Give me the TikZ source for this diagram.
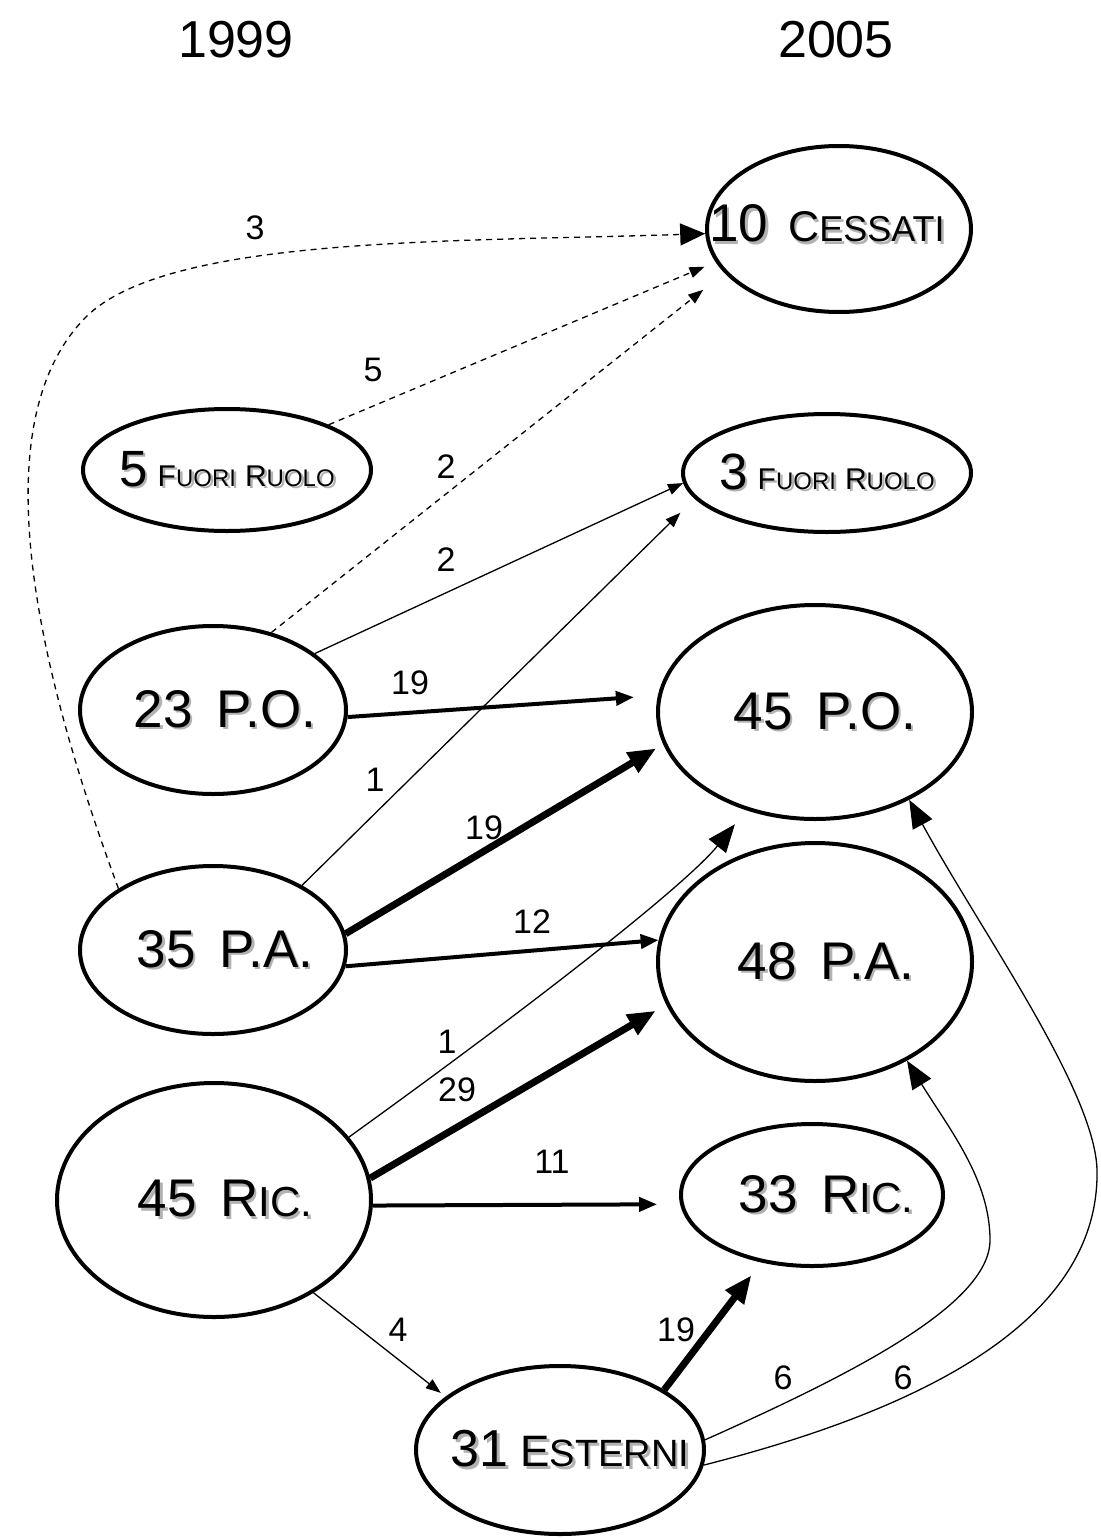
\documentclass[tikz,border=0pt]{standalone}
\usepackage{fontspec}
\setmainfont{Liberation Sans}
\usetikzlibrary{arrows.meta,shapes.geometric}
\newcommand\fs[1]{\fontsize{#1}{#1}\selectfont}
\newcommand\shd[1]{\leavevmode\rlap{\hspace{2.5pt}\raisebox{-2.5pt}{\color{black!30}#1}}#1}
\newcommand\tx[2]{\makebox[0pt]{\hspace*{#1}\shd{#2}}}
\tikzset{
  ell/.style={ellipse, draw, line width=4pt, inner sep=0pt},
  thinl/.style={line width=1.3pt},
  dashedl/.style={line width=1.3pt, dash pattern=on 6pt off 5pt},
  medl/.style={line width=4pt},
  thickl/.style={line width=7pt},
  smalltip/.style={-{Triangle[length=15pt,width=11pt]}},
  medtip/.style={-{Triangle[length=18pt,width=14pt]}},
  bigtip/.style={-{Triangle[length=28pt,width=22pt]}},
  lbl/.style={font=\fs{34}, inner sep=0pt},
  hdr/.style={font=\fs{52}, inner sep=0pt}
}
\begin{document}
\begin{tikzpicture}[x=1pt,y=-1pt]
\useasboundingbox[fill=white] (0,0) rectangle (1100,1538);
% headers
\node[hdr] (h1) at (236,40) {1999};
\node[hdr] (h2) at (836,40) {2005};
% ellipses
\node[ell, minimum width=264pt, minimum height=166pt] (ces) at (839,229)
  {\raisebox{-13pt}[0pt][0pt]{\tx{-24pt}{\fs{53}10\hspace{20pt}\fs{43}C\fs{36}ESSATI}}};
\node[ell, minimum width=288pt, minimum height=122pt] (fr5) at (227,470)
  {\tx{0pt}{\fs{51}5\hspace{10pt}\fs{30}F\fs{24}UORI\hspace{9pt}\fs{30}R\fs{24}UOLO}};
\node[ell, minimum width=288pt, minimum height=118pt] (fr3) at (827,473)
  {\tx{0pt}{\fs{51}3\hspace{10pt}\fs{30}F\fs{24}UORI\hspace{9pt}\fs{30}R\fs{24}UOLO}};
\node[ell, minimum width=266pt, minimum height=168pt] (po23) at (213,710)
  {\tx{24pt}{\fs{53}23\hspace{24pt}P.O.}};
\node[ell, minimum width=266pt, minimum height=168pt] (pa35) at (213,950)
  {\tx{24pt}{\fs{53}35\hspace{24pt}P.A.}};
\node[ell, minimum width=314pt, minimum height=234pt] (ric45) at (214,1200)
  {\tx{22pt}{\fs{53}45\hspace{24pt}R\fs{42}IC.}};
\node[ell, minimum width=314pt, minimum height=214pt] (po45) at (815,712)
  {\tx{20pt}{\fs{53}45\hspace{24pt}P.O.}};
\node[ell, minimum width=314pt, minimum height=238pt] (pa48) at (815,962)
  {\tx{22pt}{\fs{53}48\hspace{24pt}P.A.}};
\node[ell, minimum width=262pt, minimum height=142pt] (ric33) at (812,1195)
  {\tx{28pt}{\fs{53}33\hspace{24pt}R\fs{42}IC.}};
\node[ell, minimum width=288pt, minimum height=168pt] (est) at (560,1450)
  {\tx{20pt}{\fs{52}31\hspace{12pt}\fs{44}E\fs{38}STERNI}};
% connectors
\draw[dashedl, -{Triangle[length=25pt,width=22pt]}] (pa35.147) .. controls (30,650) and (-15,420) .. (85,318) .. controls (165,236) and (450,242) .. (ces.182);
\draw[dashedl, smalltip, shorten >=12pt] (fr5.24) -- (ces.195);
\draw[dashedl, smalltip, shorten >=27pt] (po23.53) -- (ces.201);
\draw[thinl, smalltip] (po23.29) -- (fr3.184);
\draw[medl, medtip, shorten >=24pt] (po23.357) -- (po45.174);
\draw[thinl, smalltip, shorten >=20pt] (pa35.36) -- (fr3.191);
\draw[thickl, bigtip, shorten >=8pt] (pa35.7) -- (po45.192);
\draw[medl, medtip] (pa35.353) -- (pa48.172);
\draw[thinl, bigtip, shorten >=18pt] (ric45.25) .. controls (560,985) and (690,880) .. (po45.235);
\draw[thickl, bigtip, shorten >=12pt] (ric45.8) -- (pa48.196);
\draw[medl, medtip, shorten >=23pt] (ric45.358) -- (ric33.184);
\draw[thinl, smalltip, shorten >=6pt] (ric45.317) -- (est.155);
\draw[thickl, bigtip, shorten >=16pt] (est.30) -- (ric33.233);
\draw[thinl, bigtip] (est.4) .. controls (850,1375) and (990,1305) .. (990,1240) .. controls (990,1180) and (950,1130) .. (pa48.313);
\draw[thinl, bigtip] (est.354) .. controls (900,1415) and (1100,1330) .. (1097,1170) .. controls (1095,1090) and (980,930) .. (po45.317);
% labels
\node[lbl] (l1) at (255,228) {3};
\node[lbl] (l2) at (373,370) {5};
\node[lbl] (l3) at (446,467) {2};
\node[lbl] (l4) at (446,560) {2};
\node[lbl] (l5) at (410,683) {19};
\node[lbl] (l6) at (375,780) {1};
\node[lbl] (l7) at (484,828) {19};
\node[lbl] (l8) at (532,922) {12};
\node[lbl] (l9) at (447,1042) {1};
\node[lbl] (l10) at (457,1090) {29};
\node[lbl] (l11) at (552,1162) {11};
\node[lbl] (l12) at (398,1330) {4};
\node[lbl] (l13) at (676,1330) {19};
\node[lbl] (l14) at (783,1378) {6};
\node[lbl] (l15) at (903,1378) {6};
\end{tikzpicture}
\end{document}
